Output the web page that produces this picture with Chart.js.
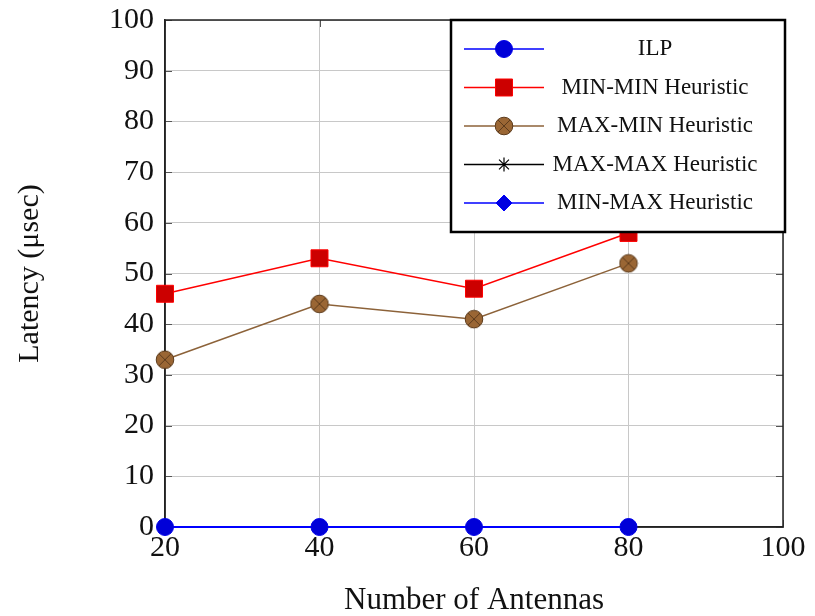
<!DOCTYPE html>
<html>
<head>
<meta charset="utf-8">
<script src="https://cdn.jsdelivr.net/npm/chart.js@4/dist/chart.umd.min.js"></script>
<style>
  body { margin: 0; background: #fff; }
  #wrap { width: 815px; height: 616px; }
</style>
</head>
<body>
<div id="wrap"><canvas id="latencyChart" width="815" height="616"></canvas></div>
<script>
'use strict';

// data
const antennas = [20, 40, 60, 80];
const ilp = [0, 0, 0, 0];
const minMin = [46, 53, 47, 58];
const maxMin = [33, 44, 41, 52];
const maxMax = [null, null, null, null];
const minMax = [null, null, null, null];

const xTicks = [20, 40, 60, 80, 100];
const yTicks = [0, 10, 20, 30, 40, 50, 60, 70, 80, 90, 100];

const serif = '"Liberation Serif", "Times New Roman", serif';

// circle with a cross (pgfplots "otimes*")
const otimes = document.createElement('canvas');
otimes.width = otimes.height = 20;
(function () {
    const c = otimes.getContext('2d');
    const d = 8.5 * Math.SQRT1_2;
    c.fillStyle = '#9a6634';
    c.strokeStyle = '#5c3b1c';
    c.lineWidth = 1;
    c.beginPath();
    c.arc(10, 10, 8.8, 0, 2 * Math.PI);
    c.fill();
    c.stroke();
    c.beginPath();
    c.moveTo(10 - d, 10 - d); c.lineTo(10 + d, 10 + d);
    c.moveTo(10 + d, 10 - d); c.lineTo(10 - d, 10 + d);
    c.stroke();
})();

const pts = ys => antennas.map((x, i) => ({ x: x, y: ys[i] }));

// box round the plot + short inward tick marks on all four sides
const frame = {
    id: 'frame',
    beforeDatasetsDraw(chart) {
        const { ctx, chartArea: a, scales } = chart;
        ctx.save();
        ctx.strokeStyle = '#555';
        ctx.lineWidth = 1;
        ctx.beginPath();
        yTicks.forEach(v => {
            const y = Math.round(scales.y.getPixelForValue(v)) + 0.5;
            ctx.moveTo(a.left, y); ctx.lineTo(a.left + 7, y);
            ctx.moveTo(a.right, y); ctx.lineTo(a.right - 7, y);
        });
        xTicks.forEach(v => {
            const x = Math.round(scales.x.getPixelForValue(v)) + 0.5;
            ctx.moveTo(x, a.bottom); ctx.lineTo(x, a.bottom - 7);
            ctx.moveTo(x, a.top); ctx.lineTo(x, a.top + 7);
        });
        ctx.stroke();
        ctx.strokeStyle = '#222';
        ctx.lineWidth = 1.5;
        ctx.strokeRect(a.left, a.top, a.right - a.left, a.bottom - a.top);
        ctx.restore();
    }
};

// legend box in the upper right corner
const boxLegend = {
    id: 'boxLegend',
    afterDraw(chart) {
        const { ctx, chartArea: a } = chart;
        const w = 334, h = 212;
        const left = a.right - w + 2, top = a.top;
        ctx.save();
        ctx.fillStyle = '#fff';
        ctx.fillRect(left, top, w, h);
        ctx.strokeStyle = '#000';
        ctx.lineWidth = 2.5;
        ctx.strokeRect(left, top, w, h);

        chart.data.datasets.forEach((ds, i) => {
            const y = top + 29 + i * 38.5;
            ctx.strokeStyle = ds.borderColor;
            ctx.lineWidth = 1.5;
            ctx.beginPath();
            ctx.moveTo(left + 13, y);
            ctx.lineTo(left + 93, y);
            ctx.stroke();
            ctx.fillStyle = ds.pointBackgroundColor;
            ctx.strokeStyle = ds.pointBorderColor;
            ctx.lineWidth = ds.pointBorderWidth;
            Chart.helpers.drawPoint(ctx, {
                pointStyle: ds.pointStyle,
                radius: ds.pointRadius,
                borderWidth: ds.pointBorderWidth,
                rotation: 0
            }, left + 53, y);
            ctx.fillStyle = '#111';
            ctx.font = '23px ' + serif;
            ctx.textAlign = 'center';
            ctx.textBaseline = 'middle';
            ctx.fillText(ds.label, left + 204, y);
        });
        ctx.restore();
    }
};

new Chart(document.getElementById('latencyChart'), {
    type: 'line',
    data: {
        datasets: [{
            label: 'ILP',
            data: pts(ilp),
            borderColor: '#0000ff',
            borderWidth: 2,
            pointStyle: 'circle',
            pointRadius: 8.5,
            pointBackgroundColor: '#0000d8',
            pointBorderColor: '#0000e8',
            pointBorderWidth: 1
        }, {
            label: 'MIN-MIN Heuristic',
            data: pts(minMin),
            borderColor: '#ff0000',
            borderWidth: 1.5,
            pointStyle: 'rect',
            pointRadius: 12,
            pointBackgroundColor: '#cc0000',
            pointBorderColor: '#ff0000',
            pointBorderWidth: 1
        }, {
            label: 'MAX-MIN Heuristic',
            data: pts(maxMin),
            borderColor: '#8c6239',
            borderWidth: 1.5,
            pointStyle: otimes,
            pointRadius: 9,
            pointBackgroundColor: '#9a6634',
            pointBorderColor: '#5c3b1c',
            pointBorderWidth: 1
        }, {
            label: 'MAX-MAX Heuristic',
            data: pts(maxMax),
            borderColor: '#000000',
            borderWidth: 1.2,
            pointStyle: 'star',
            pointRadius: 7,
            pointBackgroundColor: '#000',
            pointBorderColor: '#000',
            pointBorderWidth: 1.2
        }, {
            label: 'MIN-MAX Heuristic',
            data: pts(minMax),
            borderColor: '#0000ff',
            borderWidth: 1.5,
            pointStyle: 'rectRot',
            pointRadius: 8,
            pointBackgroundColor: '#0000e0',
            pointBorderColor: '#0000ff',
            pointBorderWidth: 1
        }]
    },
    options: {
        responsive: false,
        animation: false,
        datasets: { line: { clip: false, tension: 0 } },
        layout: { padding: { top: 20, right: 32, left: 0, bottom: 0 } },
        plugins: {
            legend: { display: false },
            tooltip: { enabled: false }
        },
        scales: {
            x: {
                type: 'linear',
                min: 20,
                max: 100,
                afterBuildTicks: s => { s.ticks = xTicks.map(v => ({ value: v })); },
                afterFit: s => { s.height = 89; s.paddingLeft = 0; s.paddingRight = 0; },
                grid: { color: '#c8c8c8', lineWidth: 1, drawTicks: false },
                border: { color: '#222', width: 1.5 },
                ticks: {
                    color: '#111',
                    padding: 3,
                    maxRotation: 0,
                    font: { family: serif, size: 30 }
                },
                title: {
                    display: true,
                    text: 'Number of Antennas',
                    color: '#111',
                    padding: { top: 0, bottom: -3 },
                    font: { family: serif, size: 31 }
                }
            },
            y: {
                min: 0,
                max: 100,
                afterBuildTicks: s => { s.ticks = yTicks.map(v => ({ value: v })); },
                afterFit: s => { s.width = 165; s.paddingTop = 0; s.paddingBottom = 0; },
                grid: { color: '#c8c8c8', lineWidth: 1, drawTicks: false },
                border: { color: '#222', width: 1.5 },
                ticks: {
                    color: '#111',
                    padding: 11,
                    font: { family: serif, size: 30 }
                },
                title: {
                    display: true,
                    text: 'Latency (\u03bcsec)',
                    color: '#111',
                    padding: { top: 12, bottom: 0 },
                    font: { family: serif, size: 30 }
                }
            }
        }
    },
    plugins: [frame, boxLegend]
});
</script>
</body>
</html>
